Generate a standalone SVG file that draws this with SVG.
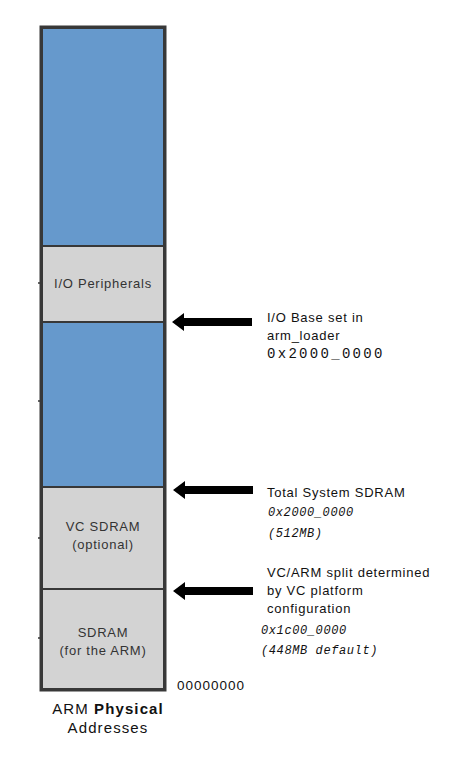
<svg xmlns="http://www.w3.org/2000/svg" width="451" height="776" viewBox="0 0 451 776">
<style>
.blue{fill:#6699cc;stroke:#383838;stroke-width:2}
.grey{fill:#d3d3d3;stroke:#383838;stroke-width:2}
.lbl{font-family:"Liberation Sans",Arial,sans-serif;font-size:13px;fill:#333;text-anchor:middle;letter-spacing:0.75px}
.note{font-family:"Liberation Sans",Arial,sans-serif;font-size:13px;fill:#111;letter-spacing:0.75px}
.mono{font-family:"Liberation Mono","Courier New",monospace;font-size:14px;fill:#111;letter-spacing:2.3px}
.it{font-style:italic;font-size:12px;letter-spacing:0.6px}
.arrow{fill:#000}
.tick{stroke:#333;stroke-width:1.5}
.title{font-family:"Liberation Sans",Arial,sans-serif;font-size:15px;fill:#111;text-anchor:middle;letter-spacing:1.1px}
</style>
<rect width="451" height="776" fill="#fff"/>
<g id="top-region"><rect class="blue" x="42" y="28" width="122" height="218"/></g>
<g id="io-peripherals"><rect class="grey" x="42" y="246" width="122" height="76"/><text class="lbl" x="103" y="288">I/O Peripherals</text><line class="tick" x1="38" y1="283" x2="41" y2="283"/></g>
<g id="arm-sdram-high"><rect class="blue" x="42" y="322" width="122" height="165"/><line class="tick" x1="38" y1="401" x2="41" y2="401"/></g>
<g id="vc-sdram"><rect class="grey" x="42" y="487" width="122" height="102"/><text class="lbl" x="103" y="531">VC SDRAM</text><text class="lbl" x="103" y="549">(optional)</text><line class="tick" x1="38" y1="538" x2="41" y2="538"/></g>
<g id="sdram"><rect class="grey" x="42" y="589" width="122" height="100"/><text class="lbl" x="103" y="637">SDRAM</text><text class="lbl" x="103" y="655">(for the ARM)</text><line class="tick" x1="38" y1="638" x2="41" y2="638"/></g>
<rect x="41" y="27" width="124" height="663" fill="none" stroke="#383838" stroke-width="3"/>
<g id="connectors">
<polygon class="arrow" points="172,322 184,313 184,318 252,318 252,326 184,326 184,331"/>
<polygon class="arrow" points="173,490 185,481 185,486 253,486 253,494 185,494 185,499"/>
<polygon class="arrow" points="173,591 185,582 185,587 253,587 253,595 185,595 185,600"/>
</g>
<g id="io-base-note">
<text class="note" x="267" y="322">I/O Base set in</text>
<text class="note" x="267" y="340">arm_loader</text>
<text class="mono" x="267" y="358">0x2000_0000</text>
</g>
<g id="total-sdram-note">
<text class="note" x="267" y="497">Total System SDRAM</text>
<text class="mono it" x="268" y="516">0x2000_0000</text>
<text class="mono it" x="268" y="537">(512MB)</text>
</g>
<g id="split-note">
<text class="note" x="267" y="577">VC/ARM split determined</text>
<text class="note" x="267" y="595">by VC platform</text>
<text class="note" x="267" y="613">configuration</text>
<text class="mono it" x="261" y="634">0x1c00_0000</text>
<text class="mono it" x="261" y="654">(448MB default)</text>
</g>
<g id="zero-label"><text class="note" x="177" y="690" style="font-size:13.5px;letter-spacing:1px">00000000</text></g>
<g id="title">
<text class="title" x="108" y="714">ARM <tspan font-weight="bold">Physical</tspan></text>
<text class="title" x="108" y="733">Addresses</text>
</g>
</svg>
